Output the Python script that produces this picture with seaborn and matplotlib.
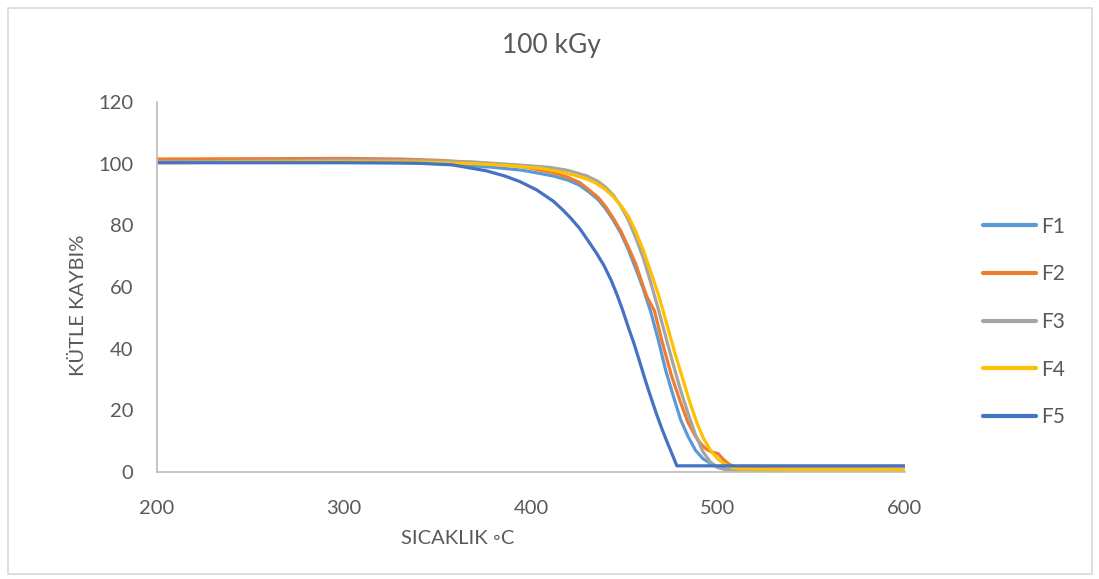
import numpy as np
import pandas as pd
import matplotlib
matplotlib.use('Agg')
import matplotlib.pyplot as plt
import seaborn as sns
from matplotlib.patches import Rectangle

# readings taken off the reference chart (temperature in C, mass %)
f1_t = [200, 250, 300, 340, 360, 380, 395, 405, 412, 420, 426, 431, 436, 440, 444, 448, 452, 456, 460, 464,
        468, 472, 476, 480, 484, 488, 492, 496, 500, 505, 520, 598, 600]
f1_v = [100.6, 100.7, 100.6, 100.3, 99.7, 98.8, 97.9, 96.8, 96.0, 94.6, 93.0, 90.8, 88.3, 85.3, 81.7, 77.5, 72.2, 66.0, 59.5, 52.0,
        43.0, 33.0, 24.8, 17.0, 11.5, 7.0, 4.3, 2.8, 1.5, 0.9, 0.7, 0.7, 0.0]

f2_t = [200, 250, 300, 330, 350, 370, 385, 395, 405, 412, 420, 426, 431, 436, 440, 444, 448, 452, 456, 459,
        462, 466, 470, 475, 480, 484, 488, 491, 494, 497, 500, 503, 506, 510, 520, 600]
f2_v = [101.5, 101.6, 101.7, 101.5, 101.1, 100.4, 99.7, 99.1, 97.9, 97.1, 95.5, 93.9, 91.5, 89.0, 86.0, 82.3, 78.2, 73.0, 67.5, 62.0,
        56.8, 52.3, 42.5, 31.5, 22.5, 16.0, 11.5, 9.0, 7.3, 6.4, 6.0, 4.0, 2.5, 1.4, 1.1, 1.0]

f3_t = [200, 250, 300, 340, 370, 395, 410, 420, 430, 436, 440, 444, 448, 452, 456, 460, 464, 468, 472, 476,
        480, 484, 488, 492, 496, 500, 505, 550, 600]
f3_v = [100.5, 100.8, 101.1, 101.0, 100.5, 99.5, 98.8, 97.8, 96.0, 94.2, 92.3, 89.8, 86.3, 81.8, 76.0, 69.5, 61.5, 53.0, 44.0, 35.0,
        26.5, 19.0, 12.0, 6.5, 3.2, 1.4, 0.6, 0.4, 0.4]

f4_t = [200, 250, 300, 340, 370, 390, 405, 415, 423, 430, 435, 440, 444, 448, 452, 456, 460, 464, 468, 471,
        474, 477, 481, 485, 489, 492, 496, 500, 503, 507, 512, 550, 600]
f4_v = [100.3, 100.5, 100.6, 100.5, 100.0, 99.3, 98.5, 97.4, 96.3, 95.0, 93.6, 91.5, 89.3, 86.5, 83.0, 78.0, 72.0, 65.0, 57.8, 51.5,
        45.0, 38.5, 30.5, 22.5, 15.5, 11.2, 7.0, 4.2, 2.8, 1.5, 1.0, 0.8, 0.8]

f5_t = [200, 250, 300, 330, 341, 358, 376, 386, 394, 403, 412, 417, 421, 426, 430, 435, 439, 443, 446, 449,
        452, 455, 458, 461, 464, 467, 470, 473, 476, 478, 500, 550, 600]
f5_v = [100.3, 100.3, 100.3, 100.2, 100.1, 99.6, 97.7, 96.0, 94.2, 91.5, 87.8, 85.0, 82.5, 79.0, 75.5, 71.0, 67.0, 62.0, 57.5, 52.5,
        47.0, 41.8, 36.0, 30.0, 24.4, 19.0, 14.0, 9.4, 5.0, 2.0, 2.0, 2.0, 2.0]

series_names = ['F1', 'F2', 'F3', 'F4', 'F5']
series_colors = ['#5B9BD5', '#ED7D31', '#A5A5A5', '#FFC000', '#4472C4']

x_ticks = [200, 300, 400, 500, 600]
y_ticks = [0, 20, 40, 60, 80, 100, 120]

frames = []
for name, t, v in zip(series_names, [f1_t, f2_t, f3_t, f4_t, f5_t], [f1_v, f2_v, f3_v, f4_v, f5_v]):
    frames.append(pd.DataFrame({'sicaklik': t, 'kutle': v, 'seri': name}))
df = pd.concat(frames, ignore_index=True)

sns.set_style('white')
plt.rcParams['font.family'] = ['Lato', 'DejaVu Sans']
text_col = '#595959'
axis_col = '#BFBFBF'

fig = plt.figure(figsize=(10.99, 5.79), dpi=100)
ax = fig.add_axes([157 / 1099, 1 - 472 / 579, (905 - 157) / 1099, (472 - 102) / 579])

sns.lineplot(data=df, x='sicaklik', y='kutle', hue='seri', palette=dict(zip(series_names, series_colors)),
             estimator=None, linewidth=2.3, ax=ax)

ax.set_xlim(200, 600)
ax.set_ylim(0, 120)
ax.set_xticks(x_ticks)
ax.set_yticks(y_ticks)
ax.tick_params(axis='both', length=0, labelsize=14.5, colors=text_col)
ax.tick_params(axis='x', pad=20)
ax.tick_params(axis='y', pad=17)
ax.set_xlabel('')
ax.set_ylabel('')
for s in ['top', 'right']:
    ax.spines[s].set_visible(False)
for s in ['left', 'bottom']:
    ax.spines[s].set_color(axis_col)
    ax.spines[s].set_linewidth(1.3)
for line in ax.get_lines():
    line.set_solid_capstyle('round')
    line.set_solid_joinstyle('round')

leg = ax.legend(loc='center left', bbox_to_anchor=(983 / 1099, 1 - 322 / 579), bbox_transform=fig.transFigure,
                frameon=False, fontsize=15, labelcolor=text_col, handlelength=2.55, handletextpad=0.25,
                labelspacing=1.33, borderpad=0, borderaxespad=0)
for h in leg.get_lines():
    h.set_linewidth(3)

fig.text(551 / 1099, 1 - 45 / 579, '100 kGy', ha='center', va='center', fontsize=19, color=text_col)
fig.text(78 / 1099, 1 - 305 / 579, 'KÜTLE KAYBI%', ha='center', va='center', rotation=90, fontsize=14.5, color=text_col)
fig.text(458 / 1099, 1 - 538 / 579, 'SICAKLIK ◦C', ha='center', va='center', fontsize=14.5, color=text_col)

fig.patches.append(Rectangle((8 / 1099, 5 / 579), 1084 / 1099, 566 / 579, transform=fig.transFigure,
                             fill=False, edgecolor='#D9D9D9', linewidth=1.2))

fig.savefig('out.png', dpi=100, facecolor='white')
